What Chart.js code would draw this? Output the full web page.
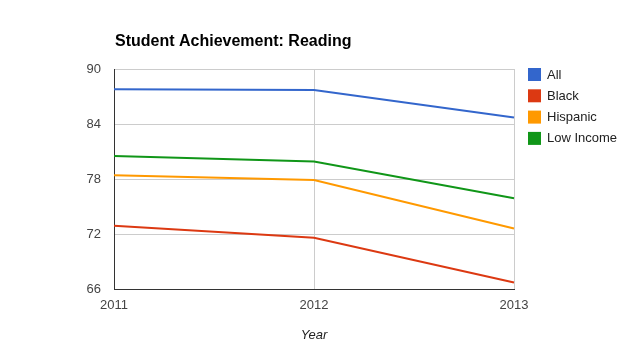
<!DOCTYPE html>
<html>
<head>
<meta charset="utf-8">
<script src="https://cdn.jsdelivr.net/npm/chart.js@4/dist/chart.umd.min.js"></script>
<style>
  html, body { margin: 0; padding: 0; background: #fff; }
  #wrap { width: 629px; height: 359px; position: relative; }
</style>
</head>
<body>
<div id="wrap"><canvas id="myChart"></canvas></div>
<script>
var years = ["2011", "2012", "2013"];
var seriesNames = ["All", "Black", "Hispanic", "Low Income"];
var allValues = [87.8, 87.7, 84.7];
var blackValues = [72.9, 71.6, 66.7];
var hispanicValues = [78.4, 77.9, 72.6];
var lowIncomeValues = [80.5, 79.9, 75.9];
var yTicks = [66, 72, 78, 84, 90];
var lineColors = ["#3366cc", "#dc3912", "#ff9900", "#109618"];

var seriesValues = [allValues, blackValues, hispanicValues, lowIncomeValues];
var datasets = seriesNames.map(function(name, i) {
  return {
    label: name,
    data: seriesValues[i],
    borderColor: lineColors[i],
    backgroundColor: lineColors[i],
    borderWidth: 2,
    pointRadius: 0,
    tension: 0
  };
});

// title + legend drawn by hand, google-charts style
var extras = {
  id: "extras",
  afterDraw: function(chart) {
    var ctx = chart.ctx;
    ctx.save();
    ctx.fillStyle = "#000";
    ctx.font = "bold 16px Arial, 'Liberation Sans', sans-serif";
    ctx.textBaseline = "alphabetic";
    ctx.textAlign = "left";
    ctx.fillText("Student Achievement: Reading", 115, 46);

    ctx.font = "13px Arial, 'Liberation Sans', sans-serif";
    ctx.textBaseline = "middle";
    chart.data.datasets.forEach(function(ds, i) {
      var top = 68 + i * 21.3;
      ctx.fillStyle = ds.borderColor;
      ctx.fillRect(528, top, 13, 13);
      ctx.fillStyle = "#222";
      ctx.fillText(ds.label, 547, top + 7);
    });
    ctx.restore();
  }
};

new Chart("myChart", {
  type: "line",
  data: {
    labels: years,
    datasets: datasets
  },
  options: {
    responsive: true,
    maintainAspectRatio: false,
    animation: false,
    layout: { padding: { left: 74, right: 115, top: 69, bottom: 0 } },
    plugins: {
      legend: { display: false },
      title: { display: false },
      tooltip: { enabled: false }
    },
    scales: {
      x: {
        offset: false,
        afterFit: function(scale) { scale.height = 70; },
        grid: { color: "#cccccc", drawTicks: false, lineWidth: 1 },
        border: { color: "#333333", width: 1 },
        ticks: {
          color: "#444",
          padding: 9,
          maxRotation: 0,
          font: { family: "Arial, 'Liberation Sans', sans-serif", size: 13 }
        },
        title: {
          display: true,
          text: "Year",
          color: "#222",
          padding: { top: 0, bottom: 16 },
          font: { family: "Arial, 'Liberation Sans', sans-serif", size: 13, style: "italic" }
        }
      },
      y: {
        min: 66,
        max: 90,
        afterFit: function(scale) { scale.width = 40; },
        afterBuildTicks: function(scale) {
          scale.ticks = yTicks.map(function(v) { return { value: v }; });
        },
        grid: { color: "#cccccc", drawTicks: false, lineWidth: 1 },
        border: { color: "#333333", width: 1 },
        ticks: {
          color: "#444",
          padding: 13,
          font: { family: "Arial, 'Liberation Sans', sans-serif", size: 13 }
        }
      }
    }
  },
  plugins: [extras]
});
</script>
</body>
</html>
